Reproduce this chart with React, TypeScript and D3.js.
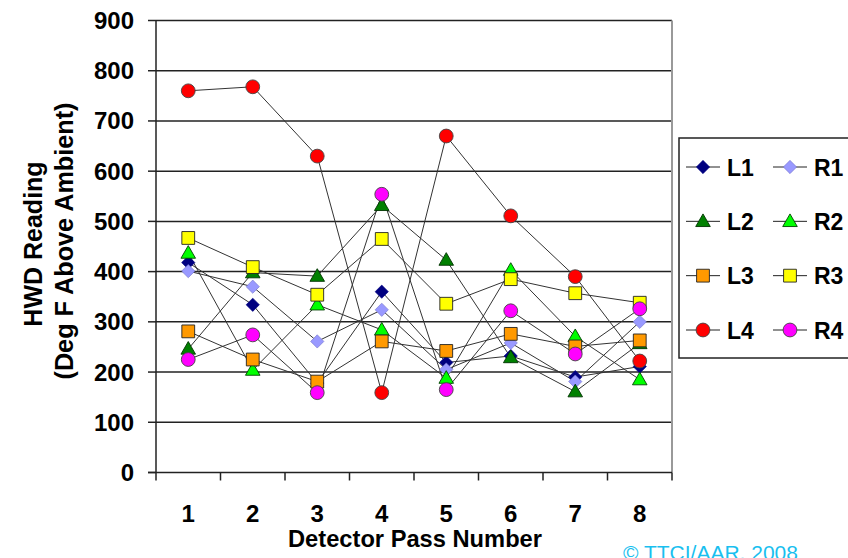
import * as d3 from "d3";

const width = 848;
const height = 558;
const margin = { top: 20.5, right: 176, bottom: 85, left: 156 };

const passes = ["1", "2", "3", "4", "5", "6", "7", "8"];
const yTicks = [0, 100, 200, 300, 400, 500, 600, 700, 800, 900];

// readings per detector pass (deg F above ambient)
const L1 = [418, 334, 178, 360, 219, 232, 190, 211];
const R1 = [401, 370, 261, 324, 205, 258, 181, 300];
const L2 = [246, 398, 391, 532, 423, 229, 161, 257];
const R2 = [437, 204, 334, 284, 188, 403, 271, 185];
const L3 = [281, 225, 181, 261, 242, 276, 251, 263];
const R3 = [467, 409, 354, 465, 336, 385, 357, 338];
const L4 = [760, 768, 630, 159, 670, 511, 390, 222];
const R4 = [225, 274, 159, 554, 165, 322, 236, 326];

type Shape = "diamond" | "triangle" | "square" | "circle";

const series: { name: string; values: number[]; shape: Shape; fill: string; stroke: string }[] = [
  { name: "L1", values: L1, shape: "diamond", fill: "#000080", stroke: "#000080" },
  { name: "R1", values: R1, shape: "diamond", fill: "#9999FF", stroke: "#7777cc" },
  { name: "L2", values: L2, shape: "triangle", fill: "#008000", stroke: "#003300" },
  { name: "R2", values: R2, shape: "triangle", fill: "#00FF00", stroke: "#004400" },
  { name: "L3", values: L3, shape: "square", fill: "#FF9900", stroke: "#222" },
  { name: "R3", values: R3, shape: "square", fill: "#FFFF00", stroke: "#222" },
  { name: "L4", values: L4, shape: "circle", fill: "#FF0000", stroke: "#444" },
  { name: "R4", values: R4, shape: "circle", fill: "#FF00FF", stroke: "#444" },
];

const legendRows = [
  ["L1", "R1"],
  ["L2", "R2"],
  ["L3", "R3"],
  ["L4", "R4"],
];

const font = "'Liberation Sans', Arial, sans-serif";

const symbolPath = (shape: Shape) => {
  if (shape === "circle") return d3.symbol(d3.symbolCircle, 150)()!;
  if (shape === "square") return d3.symbol(d3.symbolSquare, 164)()!;
  if (shape === "triangle") return d3.symbol(d3.symbolTriangle, 92)()!;
  return d3.symbol(d3.symbolSquare, 88)()!;
};

const Marker = ({ s, x, y }: { s: (typeof series)[number]; x: number; y: number }) => (
  <path
    d={symbolPath(s.shape)}
    transform={`translate(${x},${y})${s.shape === "diamond" ? " rotate(45)" : s.shape === "triangle" ? " translate(0,1)" : ""}`}
    fill={s.fill}
    stroke={s.stroke}
    strokeWidth={s.shape === "diamond" ? 0.6 : 0.9}
  />
);

const App = () => {
  const x = d3
    .scaleBand<string>()
    .domain(passes)
    .range([margin.left, width - margin.right]);
  const y = d3
    .scaleLinear()
    .domain([0, 900])
    .range([height - margin.bottom - 0.5, margin.top]);

  const line = d3
    .line<number>()
    .x((_, i) => x(passes[i])! + x.bandwidth() / 2)
    .y((d) => y(d));

  const bottom = y(0);
  const bounds = [...passes.map((p) => x(p)!), x.range()[1]];

  const legendX = { L: 703, R: 790 };
  const legendY = d3.scalePoint<number>().domain([0, 1, 2, 3]).range([167, 330]);

  return (
    <svg
      width={width}
      height={height}
      style={{ position: "absolute", left: 0, top: 0, background: "#fff" }}
      fontFamily={font}
    >
      {/* gridlines */}
      {yTicks.slice(1).map((t) => (
        <line key={t} x1={margin.left} x2={x.range()[1]} y1={y(t)} y2={y(t)} stroke="#222" strokeWidth={1.5} />
      ))}
      <line x1={x.range()[1]} x2={x.range()[1]} y1={margin.top} y2={bottom} stroke="#999" strokeWidth={2} />

      {/* series lines */}
      {series.map((s) => (
        <path key={s.name} d={line(s.values) ?? undefined} fill="none" stroke="#333" strokeWidth={1} />
      ))}

      {/* axes */}
      <line x1={margin.left} x2={margin.left} y1={margin.top} y2={bottom} stroke="#222" strokeWidth={1.5} />
      <line x1={margin.left - 8} x2={x.range()[1]} y1={bottom} y2={bottom} stroke="#222" strokeWidth={1.5} />
      {yTicks.map((t) => (
        <g key={t}>
          <line x1={margin.left - 8} x2={margin.left} y1={y(t)} y2={y(t)} stroke="#222" strokeWidth={1.5} />
          <text x={134} y={y(t) + 8.5} textAnchor="end" fontSize={24} fontWeight="bold">
            {t}
          </text>
        </g>
      ))}
      {bounds.map((b, i) => (
        <line key={i} x1={b} x2={b} y1={bottom} y2={bottom + 8} stroke="#222" strokeWidth={1.5} />
      ))}
      {passes.map((p) => (
        <text key={p} x={x(p)! + x.bandwidth() / 2} y={522} textAnchor="middle" fontSize={24} fontWeight="bold">
          {p}
        </text>
      ))}

      {/* markers */}
      {series.map((s) =>
        s.values.map((v, i) => (
          <Marker key={s.name + i} s={s} x={x(passes[i])! + x.bandwidth() / 2} y={y(v)} />
        ))
      )}

      {/* titles */}
      <text x={415} y={547} textAnchor="middle" fontSize={24} fontWeight="bold" textLength={254} lengthAdjust="spacingAndGlyphs">
        Detector Pass Number
      </text>
      <g transform="translate(42,244) rotate(-90)">
        <text textAnchor="middle" fontSize={25} fontWeight="bold">
          HWD Reading
        </text>
      </g>
      <g transform="translate(73,241) rotate(-90)">
        <text textAnchor="middle" fontSize={25} fontWeight="bold" textLength={277} lengthAdjust="spacingAndGlyphs">
          (Deg F Above Ambient)
        </text>
      </g>
      <text x={623} y={560} fontSize={21} fill="#19BFEF">
        © TTCI/AAR, 2008
      </text>

      {/* legend */}
      <rect x={679} y={138} width={180} height={220} fill="#fff" stroke="#222" strokeWidth={1.5} />
      {legendRows.map((row, r) =>
        row.map((name) => {
          const s = series.find((d) => d.name === name)!;
          const cx = name.startsWith("L") ? legendX.L : legendX.R;
          const cy = legendY(r)!;
          return (
            <g key={name}>
              <line x1={cx - 17} x2={cx + 17} y1={cy} y2={cy} stroke="#222" strokeWidth={1} />
              <Marker s={s} x={cx} y={cy} />
              <text x={cx + 24} y={cy + 8.5} fontSize={23} fontWeight="bold">
                {name}
              </text>
            </g>
          );
        })
      )}
    </svg>
  );
};

export default App;
